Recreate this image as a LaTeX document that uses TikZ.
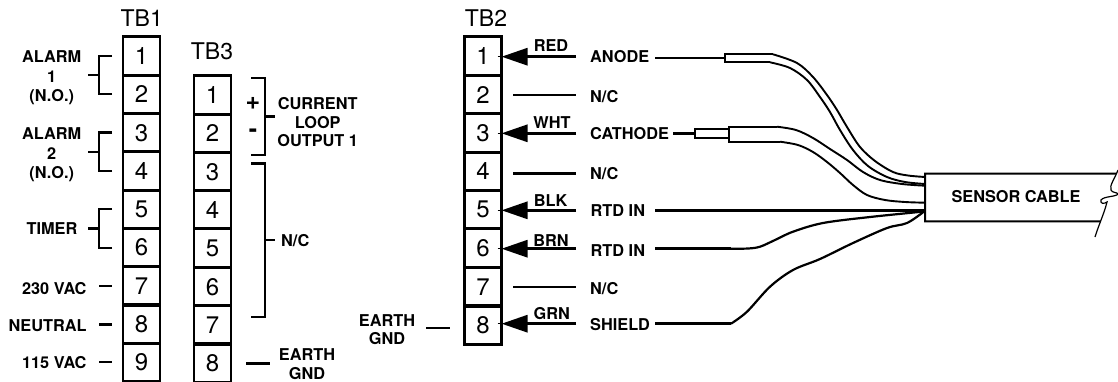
\documentclass[tikz,border=0pt]{standalone}
\usepackage{fontspec}
\setmainfont{TeX Gyre Heros}
\usetikzlibrary{arrows.meta}
\tikzset{
 cellbox/.style={draw,line width=2.9pt,minimum width=37pt,minimum height=#1,inner sep=0pt,outer sep=0pt,font=\fontsize{24}{24}\selectfont},
 cellbox/.default=38.3pt,
 title/.style={inner sep=0pt,font=\fontsize{23}{23}\selectfont},
 lab/.style={inner sep=0pt,align=center,font=\bfseries\fontsize{16.3}{19.5}\selectfont},
 labl/.style={lab,anchor=west},
 labr/.style={lab,anchor=east},
 wire/.style={line width=2.9pt},
 sheath/.style={line width=1.9pt},
 arrowwire/.style={line width=2.9pt,-{Triangle[length=26pt,width=17pt]}},
}
\begin{document}
\begin{tikzpicture}[x=1pt,y=-1pt]
\useasboundingbox (0,0) rectangle (1118,381);
\begin{scope}
\clip (0,0) rectangle (1118,381);
% TB1
\foreach \n/\yy in {1/56,2/94.4,3/132.8,4/171,5/209.3,6/247.6,7/286,8/324,9/362.2}
  \node[cellbox] (a\n) at (141.5,\yy) {\raisebox{-2pt}{\n}};
% TB3
\foreach \n/\yy in {1/95,2/133.4,3/171.8,4/209.8,5/248,6/286.8,7/325,8/363}
  \node[cellbox] (c\n) at (212.5,\yy) {\raisebox{-3pt}{\n}};
% TB2
\foreach \n/\yy in {1/56,2/94.6,3/133,4/171.4,5/209.6,6/248,7/287,8/325}
  \node[cellbox] (b\n) at (483,\yy) {\raisebox{-2.5pt}{\n}};
\end{scope}
\node[title] (t1) at (141.7,18) {TB1};
\node[title] (t3) at (212,51) {TB3};
\node[title] (t2) at (486,18) {TB2};
% TB1 labels
\node[lab] (al1) at (51.7,78) {ALARM\\1\\(N.O.)};
\node[lab] (al2) at (51.7,155) {ALARM\\2\\(N.O.)};
\node[lab] (tim) at (52,229) {TIMER};
\node[labr] (v230) at (86.7,288.7) {230 VAC};
\node[labr] (neu) at (86.7,325.7) {NEUTRAL};
\node[labr] (v115) at (86.7,362.7) {115 VAC};
% brackets
\foreach \nm/\ya/\ym/\yb in {p/56/75/94,q/132.7/152/171,r/209/228.7/248}{
  \coordinate (\nm a) at (112,\ya);
  \coordinate (\nm b) at (112,\yb);
  \coordinate (\nm s) at (88,\ym);
  \coordinate (\nm j) at (99,\ym);
  \draw[wire] (\nm a) -| (\nm j) (\nm b) -| (\nm j) (\nm s) -- (\nm j);
}
\foreach \nm/\yy in {s/286,t/324.7,u/362}{
  \coordinate (\nm 1) at (99,\yy);
  \coordinate (\nm 2) at (112,\yy);
  \draw[wire] (\nm 1) -- (\nm 2);
}
% TB3 right
\coordinate (ca) at (251,78); \coordinate (cb) at (251,155);
\coordinate (cj) at (265,116.5); \coordinate (cs) at (275,116.5);
\draw[wire] (ca) -| (cj) (cb) -| (cj) (cj) -- (cs);
\coordinate (da) at (251,163.5); \coordinate (db) at (251,317);
\coordinate (dj) at (265,240); \coordinate (ds) at (275,240);
\draw[wire] (da) -| (dj) (db) -| (dj) (dj) -- (ds);
\node[lab,font=\bfseries\fontsize{25}{25}\selectfont] (plus) at (253,103) {+};
\node[lab,font=\bfseries\fontsize{25}{25}\selectfont] (minus) at (253,133) {-};
\node[lab,font=\bfseries\fontsize{16.3}{18.5}\selectfont] (clo) at (317.7,122.5) {CURRENT\\LOOP\\OUTPUT 1};
\node[labl] (nc3) at (281,240.7) {N/C};
\node[lab,font=\bfseries\fontsize{16.3}{18.5}\selectfont] (eg3) at (307,364) {EARTH\\GND};
\coordinate (e3a) at (246,363.7); \coordinate (e3b) at (270,363.7);
\draw[wire] (e3a) -- (e3b);
% TB2 left
\node[lab,font=\bfseries\fontsize{16.3}{17.5}\selectfont] (eg2) at (387,329.5) {EARTH\\GND};
\coordinate (e2a) at (426,328); \coordinate (e2b) at (450,328);
\draw[wire] (e2a) -- (e2b);
% arrows
\foreach \n/\yy in {1/56.7,3/133.3,5/210.3,6/248.7,8/323.7}{
  \coordinate (ar\n) at (576,\yy);
  \coordinate (tip\n) at (501.5,\yy);
  \coordinate (in\n) at (497.5,\yy);
  \draw[arrowwire] (ar\n) -- (tip\n);
  \draw[line width=0.8pt] (in\n) -- (tip\n);
}
% N/C stubs
\foreach \n/\yy in {2/95,4/173.7,7/287}{
  \coordinate (nl\n) at (513,\yy);
  \coordinate (nr\n) at (576,\yy);
  \draw[wire] (nl\n) -- (nr\n);
}
\node[lab] (red) at (551,45.7) {RED};
\node[lab] (wht) at (552,122.7) {WHT};
\node[lab] (blk) at (550.7,200.7) {BLK};
\node[lab] (brn) at (551,240.7) {BRN};
\node[lab] (grn) at (551.7,314) {GRN};
\node[labl] (ano) at (590,56.7) {ANODE};
\node[labl] (nc2) at (590,96.7) {N/C};
\node[labl] (cat) at (590,133.3) {CATHODE};
\node[labl] (nc4) at (590,173.7) {N/C};
\node[labl] (rt1) at (590.5,210.7) {RTD IN};
\node[labl] (rt2) at (590.5,250.7) {RTD IN};
\node[labl] (nc7) at (590,288.7) {N/C};
\node[labl] (shd) at (590,325) {SHIELD};
% Sensor cable
\coordinate (sTL) at (925,173.7); \coordinate (sBL) at (925,221.3);
\coordinate (sTR) at (1116,173.5); \coordinate (sBR) at (1100.5,221.3);
\draw[line width=2pt] (sTR) -- (sTL) -- (sBL) -- (sBR);
\node[lab] (sc) at (1016,197) {SENSOR CABLE};
\coordinate (brk) at (1118,170);
\draw[line width=1.2pt] (brk) .. controls (1115,178) and (1109,186) .. (1111,190)
  .. controls (1112,193) and (1117,192) .. (1118,194)
  .. controls (1116,197) and (1104,196) .. (1101,200)
  .. controls (1100,204) and (1104,204) .. (1107,202)
  .. controls (1104,214) and (1099,224) .. (1095,237);
% Wires
\coordinate (anS) at (655,58); \coordinate (anE) at (725,58);
\draw[wire] (anS) -- (anE);
\draw[sheath] (773,54.3) -- (725,54.3) -- (725,62.3) -- (770,62.3);
\draw[sheath] plot[smooth,tension=.55] coordinates {(773,54.3)(797,63)(813,77)(827,95)(837,110)(847,127)(860,147)(875,161)(893,172)(908,175.5)(925,177)};
\draw[sheath] plot[smooth,tension=.55] coordinates {(770,62.3)(790,68)(807,80)(820,97)(830,112)(840,130)(853,150)(868,166)(887,177)(905,182)(925,184)};
\coordinate (caS) at (673,133.3); \coordinate (caE) at (695,133.3);
\draw[wire] (caS) -- (caE);
\draw[line width=2.2pt] (695,129) rectangle (729,137.6);
\draw[sheath] (777,126.7) -- (729,126.7) -- (729,141.7) -- (780,141.7);
\draw[sheath] plot[smooth,tension=.55] coordinates {(777,126.7)(796,130)(813,138)(830,149)(847,160)(863,172)(880,180)(902,184)(925,185.7)};
\draw[sheath] plot[smooth,tension=.55] coordinates {(780,141.7)(798,145)(813,152)(827,162)(840,173)(853,185)(867,195)(885,200)(905,202)(925,202.7)};
\coordinate (r5S) at (655,210.3); \coordinate (r5E) at (924,210.3);
\draw[wire] (r5S) -- (r5E);
\coordinate (r6S) at (655,248.7); \coordinate (r6E) at (730.7,248.7); \coordinate (wEnd) at (924,211.5);
\draw[wire] (r6S) -- (r6E);
\draw[line width=2.2pt] plot[smooth,tension=.55] coordinates {(r6E)(748,248.5)(760,246.7)(775,240)(793,231.7)(823,223)(870,217)(wEnd)};
\coordinate (shS) at (655,323.7); \coordinate (shE) at (731,323.7);
\draw[wire] (shS) -- (shE);
\draw[line width=2.2pt] plot[smooth,tension=.55] coordinates {(shE)(747,311.7)(770,286.7)(793,270)(820,259)(853,243)(887,228)(907,223)(wEnd)};
\end{tikzpicture}
\end{document}
